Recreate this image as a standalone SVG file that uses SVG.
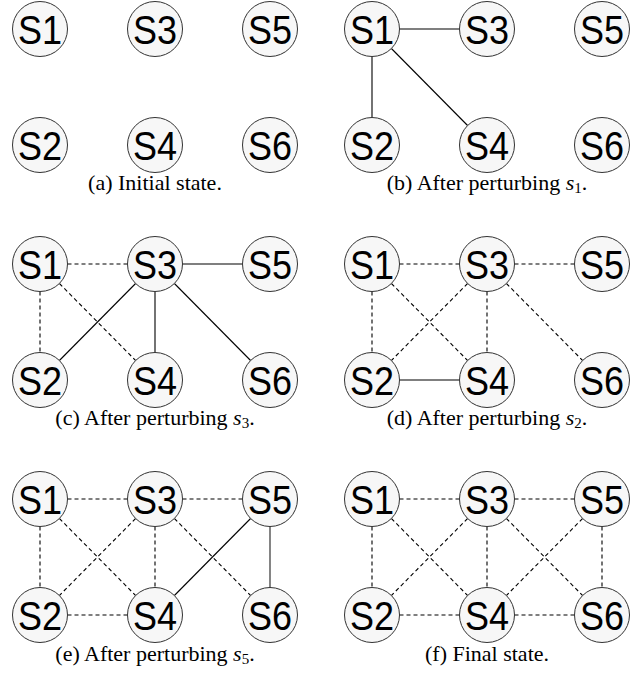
<svg xmlns="http://www.w3.org/2000/svg" width="644" height="681" viewBox="0 0 644 681">
<style>
.node circle{fill:#f7f7f7;stroke:#333;stroke-width:1}
.node text{font-family:"Liberation Sans",Arial,sans-serif;font-size:40px;text-anchor:middle;fill:#000}
.solid{stroke:#000;stroke-width:1.1;fill:none}
.gray{stroke:#666;stroke-width:1.6;fill:none}
.dash{stroke:#000;stroke-width:1.1;stroke-dasharray:4 3;fill:none}
.cap{font-family:"Liberation Serif","Times New Roman",serif;font-size:22px;text-anchor:middle;fill:#000}
.cap .m{font-style:italic}
.cap .sub{font-size:15px}
</style>
<rect width="644" height="681" fill="#fff"/>

<!-- connectors -->
<g id="connectors">
  <g id="edges-b">
    <line class="solid" x1="399.5" y1="29" x2="459.5" y2="29"/>
    <line class="solid" x1="372" y1="56.5" x2="372" y2="117.5"/>
    <line class="solid" x1="391.4" y1="48.5" x2="467.6" y2="125.5"/>
  </g>
  <g id="edges-c">
    <line class="dash" x1="67.5" y1="264" x2="127.5" y2="264"/>
    <line class="dash" x1="40" y1="291.5" x2="40" y2="352.5"/>
    <line class="dash" x1="59.4" y1="283.5" x2="135.6" y2="360.5"/>
    <line class="solid" x1="182.5" y1="264" x2="242.5" y2="264"/>
    <line class="solid" x1="135.6" y1="283.5" x2="59.4" y2="360.5"/>
    <line class="solid" x1="155" y1="291.5" x2="155" y2="352.5"/>
    <line class="solid" x1="174.4" y1="283.5" x2="250.6" y2="360.5"/>
  </g>
  <g id="edges-d">
    <line class="dash" x1="399.5" y1="264" x2="459.5" y2="264"/>
    <line class="dash" x1="372" y1="291.5" x2="372" y2="352.5"/>
    <line class="dash" x1="391.4" y1="283.5" x2="467.6" y2="360.5"/>
    <line class="dash" x1="514.5" y1="264" x2="574.5" y2="264"/>
    <line class="dash" x1="467.6" y1="283.5" x2="391.4" y2="360.5"/>
    <line class="dash" x1="487" y1="291.5" x2="487" y2="352.5"/>
    <line class="dash" x1="506.4" y1="283.5" x2="582.6" y2="360.5"/>
    <line class="solid" x1="399.5" y1="380" x2="459.5" y2="380"/>
  </g>
  <g id="edges-e">
    <line class="dash" x1="67.5" y1="499" x2="127.5" y2="499"/>
    <line class="dash" x1="40" y1="526.5" x2="40" y2="587.5"/>
    <line class="dash" x1="59.4" y1="518.5" x2="135.6" y2="595.5"/>
    <line class="dash" x1="182.5" y1="499" x2="242.5" y2="499"/>
    <line class="dash" x1="135.6" y1="518.5" x2="59.4" y2="595.5"/>
    <line class="dash" x1="155" y1="526.5" x2="155" y2="587.5"/>
    <line class="dash" x1="174.4" y1="518.5" x2="250.6" y2="595.5"/>
    <line class="dash" x1="67.5" y1="615" x2="127.5" y2="615"/>
    <line class="solid" x1="250.6" y1="518.5" x2="174.4" y2="595.5"/>
    <line class="gray" x1="270" y1="526.5" x2="270" y2="587.5"/>
  </g>
  <g id="edges-f">
    <line class="dash" x1="399.5" y1="499" x2="459.5" y2="499"/>
    <line class="dash" x1="372" y1="526.5" x2="372" y2="587.5"/>
    <line class="dash" x1="391.4" y1="518.5" x2="467.6" y2="595.5"/>
    <line class="dash" x1="514.5" y1="499" x2="574.5" y2="499"/>
    <line class="dash" x1="467.6" y1="518.5" x2="391.4" y2="595.5"/>
    <line class="dash" x1="487" y1="526.5" x2="487" y2="587.5"/>
    <line class="dash" x1="506.4" y1="518.5" x2="582.6" y2="595.5"/>
    <line class="dash" x1="399.5" y1="615" x2="459.5" y2="615"/>
    <line class="dash" x1="582.6" y1="518.5" x2="506.4" y2="595.5"/>
    <line class="dash" x1="602" y1="526.5" x2="602" y2="587.5"/>
    <line class="dash" x1="514.5" y1="615" x2="574.5" y2="615"/>
  </g>
</g>

<!-- panel a -->
<g id="a-s1" class="node"><circle cx="40" cy="29" r="27.5"/><text x="40" y="43.5" textLength="44" lengthAdjust="spacingAndGlyphs">S1</text></g>
<g id="a-s3" class="node"><circle cx="155" cy="29" r="27.5"/><text x="155" y="43.5" textLength="44" lengthAdjust="spacingAndGlyphs">S3</text></g>
<g id="a-s5" class="node"><circle cx="270" cy="29" r="27.5"/><text x="270" y="43.5" textLength="44" lengthAdjust="spacingAndGlyphs">S5</text></g>
<g id="a-s2" class="node"><circle cx="40" cy="145" r="27.5"/><text x="40" y="159.5" textLength="44" lengthAdjust="spacingAndGlyphs">S2</text></g>
<g id="a-s4" class="node"><circle cx="155" cy="145" r="27.5"/><text x="155" y="159.5" textLength="44" lengthAdjust="spacingAndGlyphs">S4</text></g>
<g id="a-s6" class="node"><circle cx="270" cy="145" r="27.5"/><text x="270" y="159.5" textLength="44" lengthAdjust="spacingAndGlyphs">S6</text></g>
<text id="cap-a" class="cap" x="155" y="190">(a) Initial state.</text>

<!-- panel b -->
<g id="b-s1" class="node"><circle cx="372" cy="29" r="27.5"/><text x="372" y="43.5" textLength="44" lengthAdjust="spacingAndGlyphs">S1</text></g>
<g id="b-s3" class="node"><circle cx="487" cy="29" r="27.5"/><text x="487" y="43.5" textLength="44" lengthAdjust="spacingAndGlyphs">S3</text></g>
<g id="b-s5" class="node"><circle cx="602" cy="29" r="27.5"/><text x="602" y="43.5" textLength="44" lengthAdjust="spacingAndGlyphs">S5</text></g>
<g id="b-s2" class="node"><circle cx="372" cy="145" r="27.5"/><text x="372" y="159.5" textLength="44" lengthAdjust="spacingAndGlyphs">S2</text></g>
<g id="b-s4" class="node"><circle cx="487" cy="145" r="27.5"/><text x="487" y="159.5" textLength="44" lengthAdjust="spacingAndGlyphs">S4</text></g>
<g id="b-s6" class="node"><circle cx="602" cy="145" r="27.5"/><text x="602" y="159.5" textLength="44" lengthAdjust="spacingAndGlyphs">S6</text></g>
<text id="cap-b" class="cap" x="487" y="190">(b) After perturbing <tspan class="m">s</tspan><tspan class="sub" dy="3">1</tspan><tspan dy="-3">.</tspan></text>

<!-- panel c -->
<g id="c-s1" class="node"><circle cx="40" cy="264" r="27.5"/><text x="40" y="278.5" textLength="44" lengthAdjust="spacingAndGlyphs">S1</text></g>
<g id="c-s3" class="node"><circle cx="155" cy="264" r="27.5"/><text x="155" y="278.5" textLength="44" lengthAdjust="spacingAndGlyphs">S3</text></g>
<g id="c-s5" class="node"><circle cx="270" cy="264" r="27.5"/><text x="270" y="278.5" textLength="44" lengthAdjust="spacingAndGlyphs">S5</text></g>
<g id="c-s2" class="node"><circle cx="40" cy="380" r="27.5"/><text x="40" y="394.5" textLength="44" lengthAdjust="spacingAndGlyphs">S2</text></g>
<g id="c-s4" class="node"><circle cx="155" cy="380" r="27.5"/><text x="155" y="394.5" textLength="44" lengthAdjust="spacingAndGlyphs">S4</text></g>
<g id="c-s6" class="node"><circle cx="270" cy="380" r="27.5"/><text x="270" y="394.5" textLength="44" lengthAdjust="spacingAndGlyphs">S6</text></g>
<text id="cap-c" class="cap" x="155" y="425">(c) After perturbing <tspan class="m">s</tspan><tspan class="sub" dy="3">3</tspan><tspan dy="-3">.</tspan></text>

<!-- panel d -->
<g id="d-s1" class="node"><circle cx="372" cy="264" r="27.5"/><text x="372" y="278.5" textLength="44" lengthAdjust="spacingAndGlyphs">S1</text></g>
<g id="d-s3" class="node"><circle cx="487" cy="264" r="27.5"/><text x="487" y="278.5" textLength="44" lengthAdjust="spacingAndGlyphs">S3</text></g>
<g id="d-s5" class="node"><circle cx="602" cy="264" r="27.5"/><text x="602" y="278.5" textLength="44" lengthAdjust="spacingAndGlyphs">S5</text></g>
<g id="d-s2" class="node"><circle cx="372" cy="380" r="27.5"/><text x="372" y="394.5" textLength="44" lengthAdjust="spacingAndGlyphs">S2</text></g>
<g id="d-s4" class="node"><circle cx="487" cy="380" r="27.5"/><text x="487" y="394.5" textLength="44" lengthAdjust="spacingAndGlyphs">S4</text></g>
<g id="d-s6" class="node"><circle cx="602" cy="380" r="27.5"/><text x="602" y="394.5" textLength="44" lengthAdjust="spacingAndGlyphs">S6</text></g>
<text id="cap-d" class="cap" x="487" y="425">(d) After perturbing <tspan class="m">s</tspan><tspan class="sub" dy="3">2</tspan><tspan dy="-3">.</tspan></text>

<!-- panel e -->
<g id="e-s1" class="node"><circle cx="40" cy="499" r="27.5"/><text x="40" y="513.5" textLength="44" lengthAdjust="spacingAndGlyphs">S1</text></g>
<g id="e-s3" class="node"><circle cx="155" cy="499" r="27.5"/><text x="155" y="513.5" textLength="44" lengthAdjust="spacingAndGlyphs">S3</text></g>
<g id="e-s5" class="node"><circle cx="270" cy="499" r="27.5"/><text x="270" y="513.5" textLength="44" lengthAdjust="spacingAndGlyphs">S5</text></g>
<g id="e-s2" class="node"><circle cx="40" cy="615" r="27.5"/><text x="40" y="629.5" textLength="44" lengthAdjust="spacingAndGlyphs">S2</text></g>
<g id="e-s4" class="node"><circle cx="155" cy="615" r="27.5"/><text x="155" y="629.5" textLength="44" lengthAdjust="spacingAndGlyphs">S4</text></g>
<g id="e-s6" class="node"><circle cx="270" cy="615" r="27.5"/><text x="270" y="629.5" textLength="44" lengthAdjust="spacingAndGlyphs">S6</text></g>
<text id="cap-e" class="cap" x="155" y="661">(e) After perturbing <tspan class="m">s</tspan><tspan class="sub" dy="3">5</tspan><tspan dy="-3">.</tspan></text>

<!-- panel f -->
<g id="f-s1" class="node"><circle cx="372" cy="499" r="27.5"/><text x="372" y="513.5" textLength="44" lengthAdjust="spacingAndGlyphs">S1</text></g>
<g id="f-s3" class="node"><circle cx="487" cy="499" r="27.5"/><text x="487" y="513.5" textLength="44" lengthAdjust="spacingAndGlyphs">S3</text></g>
<g id="f-s5" class="node"><circle cx="602" cy="499" r="27.5"/><text x="602" y="513.5" textLength="44" lengthAdjust="spacingAndGlyphs">S5</text></g>
<g id="f-s2" class="node"><circle cx="372" cy="615" r="27.5"/><text x="372" y="629.5" textLength="44" lengthAdjust="spacingAndGlyphs">S2</text></g>
<g id="f-s4" class="node"><circle cx="487" cy="615" r="27.5"/><text x="487" y="629.5" textLength="44" lengthAdjust="spacingAndGlyphs">S4</text></g>
<g id="f-s6" class="node"><circle cx="602" cy="615" r="27.5"/><text x="602" y="629.5" textLength="44" lengthAdjust="spacingAndGlyphs">S6</text></g>
<text id="cap-f" class="cap" x="487" y="661">(f) Final state.</text>
</svg>
